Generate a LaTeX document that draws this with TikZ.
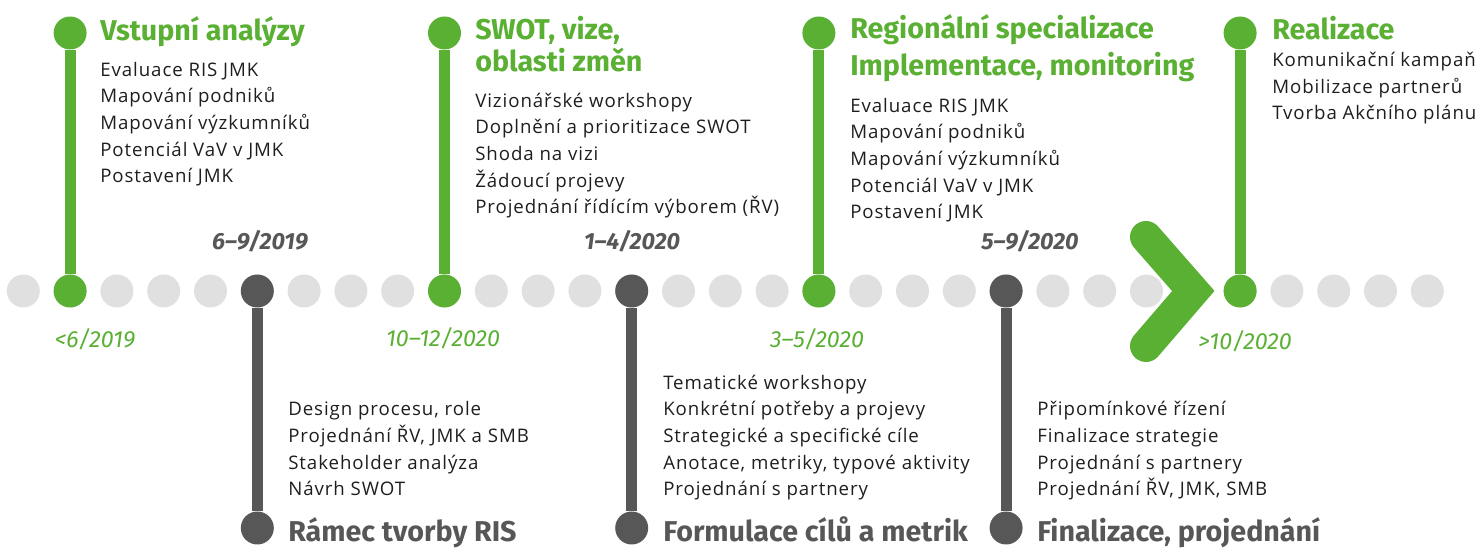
\documentclass[tikz,border=0pt]{standalone}
\usepackage{fontspec}
\setmainfont{Open Sans}[LetterSpace=5]
\newfontfamily\headfont{Fira Sans}
\usepackage{tikz}
\usetikzlibrary{positioning,calc}
\definecolor{risgreen}{HTML}{5AB033}
\definecolor{risdark}{HTML}{575757}
\definecolor{risgrey}{HTML}{E0E0E0}
\definecolor{ristext}{HTML}{1E1E1E}
\tikzset{
     dot/.style={circle, fill=risgrey, minimum size=24.75pt, inner sep=0pt},
     stem/.style={line width=8.25pt}
     }

\begin{document}
\begin{tikzpicture}[x=0.75pt,y=-0.75pt]
\tikzstyle{gdot} = [dot, fill=risgreen]
\tikzstyle{ddot} = [dot, fill=risdark]
\tikzstyle{head} = [anchor=base west, inner sep=0pt, align=left,
font=\headfont\bfseries\fontsize{21.5}{24}\selectfont]
\tikzstyle{items} = [anchor=base west, inner sep=0pt, align=left, text=ristext,
font=\fontsize{14}{20}\selectfont]
\tikzstyle{date} = [anchor=base, inner sep=0pt, font=\headfont\itshape\fontsize{17.5}{20}\selectfont]

\useasboundingbox (0,0) rectangle (1479,548);

% time line, dot 25 is the chevron
\foreach \i in {0,...,30}{
  \ifnum\i=25\relax\else
  \node[dot] (d\i) at (23.3+46.8*\i,291) {};
  \fi
}
\coordinate (C) at (23.3+46.8*25,291);
\draw[risgreen, line width=24pt, line cap=round, line join=miter] (1146,237) -- (C) -- (1146,346);

% green milestones
\node[gdot] (V) at (d1) {};
\node[gdot] (Vt) at (d1 |- 0,33) {};
\node[gdot] (S) at (d9) {};
\node[gdot] (St) at (d9 |- 0,33) {};
\node[gdot] (R) at (d17) {};
\node[gdot] (Rt) at (d17 |- 0,33) {};
\node[gdot] (Z) at (d26) {};
\node[gdot] (Zt) at (d26 |- 0,33) {};

% grey milestones
\node[ddot] (F) at (d5) {};
\node[ddot] (Fb) at (d5 |- 0,528) {};
\node[ddot] (M) at (d13) {};
\node[ddot] (Mb) at (d13 |- 0,528) {};
\node[ddot] (P) at (d21) {};
\node[ddot] (Pb) at (d21 |- 0,528) {};

%Lines
\draw[stem, risgreen] (Vt) -- (V);
\draw[stem, risgreen] (St) -- (S);
\draw[stem, risgreen] (Rt) -- (R);
\draw[stem, risgreen] (Zt) -- (Z);
\draw[stem, risdark] (F) -- (Fb);
\draw[stem, risdark] (M) -- (Mb);
\draw[stem, risdark] (P) -- (Pb);

% texts above (base = last line)
\node[head, text=risgreen] (Vh) at (100,41) {Vstupní analýzy};
\node[items] (Vi) at (100,183) {Evaluace RIS JMK\\Mapování podniků\\Mapování výzkumníků\\Potenciál VaV v JMK\\Postavení JMK};
\node[head, text=risgreen] (Sh) at (475,72) {SWOT, vize,\\oblasti změn};
\node[items] (Si) at (475,214) {Vizionářské workshopy\\Doplnění a prioritizace SWOT\\Shoda na vizi\\Žádoucí projevy\\Projednání řídícím výborem (ŘV)};
\node[head, text=risgreen] (Rh) at (850,76) {Regionální specializace\\[3.75pt]Implementace, monitoring};
\node[items] (Ri) at (850,219) {Evaluace RIS JMK\\Mapování podniků\\Mapování výzkumníků\\Potenciál VaV v JMK\\Postavení JMK};
\node[head, text=risgreen] (Zh) at (1272,40) {Realizace};
\node[items] (Zi) at (1272,120) {Komunikační kampaň\\Mobilizace partnerů\\Tvorba Akčního plánu};

% texts below
\node[items] (Fi) at (288,496) {Design procesu, role\\Projednání ŘV, JMK a SMB\\Stakeholder analýza\\Návrh SWOT};
\node[head, text=risdark] (Fh) at (288,542) {Rámec tvorby RIS};
\node[items] (Mi) at (663,496) {Tematické workshopy\\Konkrétní potřeby a projevy\\Strategické a specifické cíle\\Anotace, metriky, typové aktivity\\Projednání s partnery};
\node[head, text=risdark] (Mh) at (663,542) {Formulace cílů a metrik};
\node[items] (Pi) at (1037,496) {Připomínkové řízení\\Finalizace strategie\\Projednání s partnery\\Projednání ŘV, JMK, SMB};
\node[head, text=risdark] (Ph) at (1037,542) {Finalizace, projednání};

% dates
\node[date, text=risdark, font=\headfont\bfseries\itshape\fontsize{17.5}{20}\selectfont] (Fd) at (260,250) {6–9/2019};
\node[date, text=risdark, font=\headfont\bfseries\itshape\fontsize{17.5}{20}\selectfont] (Md) at (632,250) {1–4/2020};
\node[date, text=risdark, font=\headfont\bfseries\itshape\fontsize{17.5}{20}\selectfont] (Pd) at (1030,250) {5–9/2020};
\node[date, text=risgreen] (Vd) at (95,348) {<6/2019};
\node[date, text=risgreen] (Sd) at (443,347) {10–12/2020};
\node[date, text=risgreen] (Rd) at (817,348) {3–5/2020};
\node[date, text=risgreen] (Zd) at (1245,350) {>10/2020};
\end{tikzpicture}
\end{document}
